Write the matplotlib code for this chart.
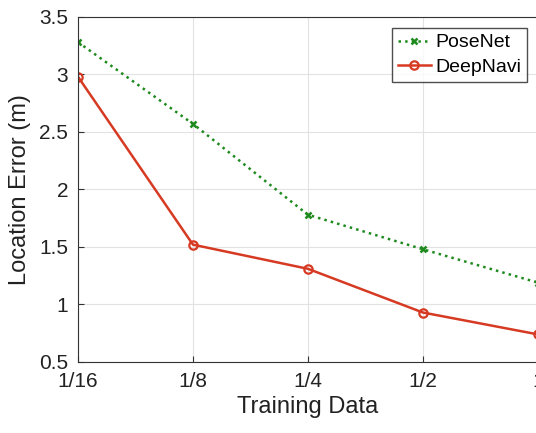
import matplotlib
matplotlib.use('Agg')
import matplotlib.pyplot as plt

plt.rcParams['font.family'] = ['Liberation Sans', 'DejaVu Sans']

x_labels = ['1/16', '1/8', '1/4', '1/2', '1']
posenet = [3.28, 2.57, 1.78, 1.48, 1.19]
deepnavi = [2.98, 1.52, 1.31, 0.93, 0.74]


def main():
    fig = plt.figure(figsize=(5.36, 4.33), dpi=100)
    ax = fig.add_axes([0.1455, 0.164, 0.858, 0.797])
    xs = list(range(len(x_labels)))

    ax.plot(xs, posenet, ':', color='#1e8a1e', lw=1.8, marker='x',
            ms=4, mew=1.8, label='PoseNet')
    ax.plot(xs, deepnavi, '-', color='#d63a22', lw=1.8, marker='o',
            ms=6, mfc='none', mew=1.6, label='DeepNavi')

    ax.set_xlim(0, 4)
    ax.set_ylim(0.5, 3.5)
    ax.set_xticks(xs)
    ax.set_xticklabels(x_labels)
    ax.set_yticks([0.5, 1, 1.5, 2, 2.5, 3, 3.5])
    ax.set_yticklabels(['0.5', '1', '1.5', '2', '2.5', '3', '3.5'])
    ax.grid(True, color='#e2e2e2', lw=0.8)
    ax.set_axisbelow(True)
    for s in ax.spines.values():
        s.set_color('#333333')
    ax.tick_params(labelsize=15, direction='in', length=4, color='#333333',
                   labelcolor='#222222')
    ax.tick_params(axis='x', pad=7)
    ax.tick_params(axis='y', pad=7)
    ax.set_xlabel('Training Data', fontsize=17, color='#222222', labelpad=4)
    ax.set_ylabel('Location Error (m)', fontsize=17, color='#222222', labelpad=6)

    leg = ax.legend(loc='upper right', bbox_to_anchor=(0.977, 0.968),
                    fontsize=14, fancybox=False, edgecolor='#222222',
                    handlelength=1.7, borderpad=0.3, labelspacing=0.35,
                    handletextpad=0.25, borderaxespad=0)
    leg.get_frame().set_linewidth(1.0)

    fig.savefig('out.png', dpi=100)


if __name__ == '__main__':
    main()
